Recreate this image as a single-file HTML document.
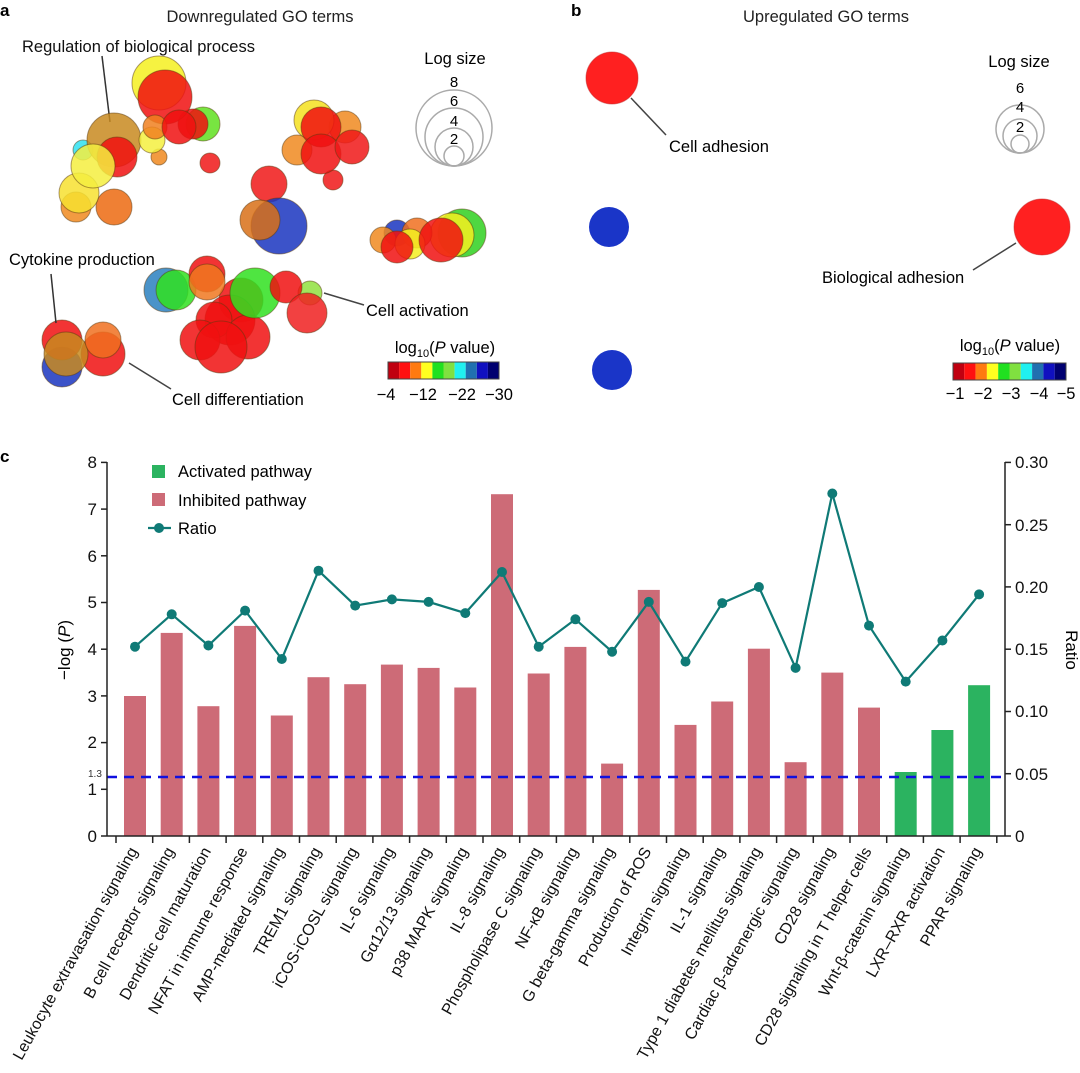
<!DOCTYPE html>
<html><head><meta charset="utf-8"><style>
body{margin:0;background:#fff}
svg{display:block;font-family:"Liberation Sans",Arial,sans-serif}
</style></head><body>
<svg width="1080" height="1073" viewBox="0 0 1080 1073" xmlns="http://www.w3.org/2000/svg">
<!-- Panel a -->
<text x="0" y="16" font-size="17" font-weight="bold">a</text>
<text x="260" y="22" font-size="16.5" text-anchor="middle" fill="#222">Downregulated GO terms</text>
<text x="22" y="52" font-size="16.5" fill="#111">Regulation of biological process</text>
<line x1="102" y1="56" x2="110" y2="122" stroke="#333" stroke-width="1.5"/>
<g stroke="#5a3a10" stroke-opacity="0.5" stroke-width="1" fill-opacity="0.85">
<circle cx="76" cy="207" r="15" fill="#f08a20"/>
<circle cx="114" cy="207" r="18" fill="#ec6a10"/>
<circle cx="79" cy="193" r="20" fill="#f7e030"/>
<circle cx="83" cy="150" r="10" fill="#30e0f0"/>
<circle cx="114" cy="140" r="27" fill="#c88a20"/>
<circle cx="117" cy="157" r="20" fill="#f01010"/>
<circle cx="93" cy="166" r="22" fill="#f5ef40"/>
<circle cx="159" cy="157" r="8" fill="#f08a20"/>
<circle cx="210" cy="163" r="10" fill="#f01818"/>
<circle cx="159" cy="83" r="27" fill="#f5f020"/>
<circle cx="203" cy="124" r="17" fill="#60e020"/>
<circle cx="193" cy="124" r="15" fill="#f01010"/>
<circle cx="152" cy="140" r="13" fill="#f5f040"/>
<circle cx="165" cy="97" r="27" fill="#f01010"/>
<circle cx="155" cy="127" r="12" fill="#f08020"/>
<circle cx="179" cy="127" r="17" fill="#f01010"/>
<circle cx="297" cy="150" r="15" fill="#f08a20"/>
<circle cx="333" cy="180" r="10" fill="#f01818"/>
<circle cx="345" cy="127" r="16" fill="#f08a20"/>
<circle cx="314" cy="120" r="20" fill="#f5e020"/>
<circle cx="321" cy="127" r="20" fill="#f01010"/>
<circle cx="321" cy="154" r="20" fill="#f01010"/>
<circle cx="352" cy="147" r="17" fill="#f01818"/>
<circle cx="269" cy="184" r="18" fill="#f01818"/>
<circle cx="279" cy="226" r="28" fill="#1a35c0"/>
<circle cx="260" cy="220" r="20" fill="#d87018"/>
<circle cx="462" cy="233" r="24" fill="#30d020"/>
<circle cx="452" cy="235" r="22" fill="#f5f020"/>
<circle cx="397" cy="233" r="13" fill="#1a35c0"/>
<circle cx="383" cy="240" r="13" fill="#f08a20"/>
<circle cx="417" cy="233" r="15" fill="#f07020"/>
<circle cx="410" cy="244" r="15" fill="#f5f020"/>
<circle cx="397" cy="247" r="16" fill="#f01010"/>
<circle cx="441" cy="240" r="22" fill="#f01010"/>
<circle cx="166" cy="290" r="22" fill="#2a80c0"/>
<circle cx="176" cy="290" r="20" fill="#30e020"/>
<circle cx="310" cy="293" r="12" fill="#90e040"/>
<circle cx="207" cy="274" r="18" fill="#f01010"/>
<circle cx="241" cy="300" r="22" fill="#f01010"/>
<circle cx="207" cy="282" r="18" fill="#f07820"/>
<circle cx="230" cy="320" r="25" fill="#f01010"/>
<circle cx="214" cy="320" r="18" fill="#f01010"/>
<circle cx="200" cy="340" r="20" fill="#f01010"/>
<circle cx="248" cy="337" r="22" fill="#f01010"/>
<circle cx="221" cy="347" r="26" fill="#f01010"/>
<circle cx="255" cy="293" r="25" fill="#30e020"/>
<circle cx="286" cy="287" r="16" fill="#f01010"/>
<circle cx="307" cy="313" r="20" fill="#f02020"/>
<circle cx="62" cy="367" r="20" fill="#1a35c0"/>
<circle cx="62" cy="340" r="20" fill="#f01010"/>
<circle cx="103" cy="354" r="22" fill="#f01010"/>
<circle cx="66" cy="354" r="22" fill="#c88a20"/>
<circle cx="103" cy="340" r="18" fill="#f07020"/>
</g>
<text x="9" y="265" font-size="16.5">Cytokine production</text>
<line x1="51" y1="274" x2="56" y2="323" stroke="#333" stroke-width="1.5"/>
<text x="366" y="316" font-size="16.5">Cell activation</text>
<line x1="324" y1="293" x2="364" y2="305" stroke="#444" stroke-width="1.5"/>
<text x="172" y="405" font-size="16.5">Cell differentiation</text>
<line x1="129" y1="363" x2="171" y2="389" stroke="#444" stroke-width="1.5"/>
<text x="455" y="64" font-size="16.5" text-anchor="middle">Log size</text>
<g fill="none" stroke="#aaa" stroke-width="1.5">
<circle cx="454" cy="128" r="38"/><circle cx="454" cy="137" r="29"/><circle cx="454" cy="147" r="19"/><circle cx="454" cy="156" r="10"/>
</g>
<g font-size="15" text-anchor="middle"><text x="454" y="87">8</text><text x="454" y="106">6</text><text x="454" y="126">4</text><text x="454" y="144">2</text></g>
<text x="445" y="353" font-size="16.5" text-anchor="middle">log<tspan font-size="11" dy="4">10</tspan><tspan dy="-4">(</tspan><tspan font-style="italic">P</tspan> value)</text>
<g>
<rect x="388" y="362" width="11.1" height="17" fill="#c00010"/><rect x="399.1" y="362" width="11.1" height="17" fill="#ff1010"/><rect x="410.2" y="362" width="11.1" height="17" fill="#ff7a10"/><rect x="421.3" y="362" width="11.1" height="17" fill="#ffff20"/><rect x="432.4" y="362" width="11.1" height="17" fill="#20e020"/><rect x="443.5" y="362" width="11.1" height="17" fill="#80e040"/><rect x="454.6" y="362" width="11.1" height="17" fill="#20f0f0"/><rect x="465.7" y="362" width="11.1" height="17" fill="#2070b0"/><rect x="476.8" y="362" width="11.1" height="17" fill="#1010c0"/><rect x="487.9" y="362" width="11.1" height="17" fill="#000070"/>
<rect x="388" y="362" width="111" height="17" fill="none" stroke="#444"/>
</g>
<g font-size="16.5" text-anchor="middle"><text x="386" y="400">−4</text><text x="423" y="400">−12</text><text x="462" y="400">−22</text><text x="499" y="400">−30</text></g>

<!-- Panel b -->
<text x="571" y="16" font-size="17" font-weight="bold">b</text>
<text x="826" y="22" font-size="16.5" text-anchor="middle" fill="#222">Upregulated GO terms</text>
<circle cx="612" cy="78" r="26" fill="#ff2020" stroke="#c02020" stroke-opacity="0.5"/>
<line x1="631" y1="98" x2="666" y2="135" stroke="#444" stroke-width="1.5"/>
<text x="669" y="152" font-size="16.5">Cell adhesion</text>
<circle cx="609" cy="227" r="20" fill="#1a35c8"/>
<circle cx="612" cy="370" r="20" fill="#1a35c8"/>
<circle cx="1042" cy="227" r="28" fill="#ff2020" stroke="#c02020" stroke-opacity="0.5"/>
<line x1="1016" y1="243" x2="973" y2="270" stroke="#444" stroke-width="1.5"/>
<text x="822" y="283" font-size="16.5">Biological adhesion</text>
<text x="1019" y="67" font-size="16.5" text-anchor="middle">Log size</text>
<g fill="none" stroke="#aaa" stroke-width="1.5"><circle cx="1020" cy="129" r="24"/><circle cx="1020" cy="136" r="17"/><circle cx="1020" cy="144" r="9"/></g>
<g font-size="15" text-anchor="middle"><text x="1020" y="93">6</text><text x="1020" y="112">4</text><text x="1020" y="132">2</text></g>
<text x="1010" y="351" font-size="16.5" text-anchor="middle">log<tspan font-size="11" dy="4">10</tspan><tspan dy="-4">(</tspan><tspan font-style="italic">P</tspan> value)</text>
<g>
<rect x="953" y="363" width="11.3" height="17" fill="#c00010"/><rect x="964.3" y="363" width="11.3" height="17" fill="#ff1010"/><rect x="975.6" y="363" width="11.3" height="17" fill="#ff7a10"/><rect x="986.9" y="363" width="11.3" height="17" fill="#ffff20"/><rect x="998.2" y="363" width="11.3" height="17" fill="#20e020"/><rect x="1009.5" y="363" width="11.3" height="17" fill="#80e040"/><rect x="1020.8" y="363" width="11.3" height="17" fill="#20f0f0"/><rect x="1032.1" y="363" width="11.3" height="17" fill="#2070b0"/><rect x="1043.4" y="363" width="11.3" height="17" fill="#1010c0"/><rect x="1054.7" y="363" width="11.3" height="17" fill="#000070"/>
<rect x="953" y="363" width="113" height="17" fill="none" stroke="#444"/>
</g>
<g font-size="16.5" text-anchor="middle"><text x="955" y="399">−1</text><text x="983" y="399">−2</text><text x="1011" y="399">−3</text><text x="1039" y="399">−4</text><text x="1066" y="399">−5</text></g>

<!-- Panel c -->
<text x="0" y="462" font-size="17" font-weight="bold">c</text>
<g>
<rect x="124" y="696" width="22" height="140" fill="#cd6b77"/>
<rect x="160.7" y="632.9" width="22" height="203.1" fill="#cd6b77"/>
<rect x="197.4" y="706.2" width="22" height="129.8" fill="#cd6b77"/>
<rect x="234.1" y="625.9" width="22" height="210.1" fill="#cd6b77"/>
<rect x="270.8" y="715.5" width="22" height="120.5" fill="#cd6b77"/>
<rect x="307.5" y="677.2" width="22" height="158.8" fill="#cd6b77"/>
<rect x="344.2" y="684.2" width="22" height="151.8" fill="#cd6b77"/>
<rect x="380.9" y="664.6" width="22" height="171.4" fill="#cd6b77"/>
<rect x="417.6" y="667.9" width="22" height="168.1" fill="#cd6b77"/>
<rect x="454.3" y="687.5" width="22" height="148.5" fill="#cd6b77"/>
<rect x="491" y="494.2" width="22" height="341.8" fill="#cd6b77"/>
<rect x="527.7" y="673.5" width="22" height="162.5" fill="#cd6b77"/>
<rect x="564.4" y="646.9" width="22" height="189.1" fill="#cd6b77"/>
<rect x="601.1" y="763.6" width="22" height="72.4" fill="#cd6b77"/>
<rect x="637.8" y="589.9" width="22" height="246.1" fill="#cd6b77"/>
<rect x="674.5" y="724.9" width="22" height="111.1" fill="#cd6b77"/>
<rect x="711.2" y="701.5" width="22" height="134.5" fill="#cd6b77"/>
<rect x="747.9" y="648.7" width="22" height="187.3" fill="#cd6b77"/>
<rect x="784.6" y="762.2" width="22" height="73.8" fill="#cd6b77"/>
<rect x="821.3" y="672.6" width="22" height="163.4" fill="#cd6b77"/>
<rect x="858" y="707.6" width="22" height="128.4" fill="#cd6b77"/>
<rect x="894.7" y="772" width="22" height="64" fill="#2bb360"/>
<rect x="931.4" y="730" width="22" height="106" fill="#2bb360"/>
<rect x="968.1" y="685.2" width="22" height="150.8" fill="#2bb360"/>
</g>
<line x1="107" y1="777" x2="1005" y2="777" stroke="#1010e0" stroke-width="2.5" stroke-dasharray="10,7"/>
<text x="88" y="777" font-size="10" fill="#333">1.3</text>
<polyline fill="none" stroke="#0f7a76" stroke-width="2.2" points="135,646.7 171.7,614.3 208.4,645.5 245.1,610.6 281.8,659 318.5,570.7 355.2,605.6 391.9,599.4 428.6,601.9 465.3,613.1 502,572 538.7,646.7 575.4,619.3 612.1,651.7 648.8,601.9 685.5,661.6 722.2,603.1 758.9,587 795.6,667.9 832.3,493.5 869,625.6 905.7,681.6 942.4,640.5 979.1,594.4"/>
<g fill="#0f7a76">
<circle cx="135" cy="646.7" r="5"/><circle cx="171.7" cy="614.3" r="5"/><circle cx="208.4" cy="645.5" r="5"/><circle cx="245.1" cy="610.6" r="5"/><circle cx="281.8" cy="659" r="5"/><circle cx="318.5" cy="570.7" r="5"/><circle cx="355.2" cy="605.6" r="5"/><circle cx="391.9" cy="599.4" r="5"/><circle cx="428.6" cy="601.9" r="5"/><circle cx="465.3" cy="613.1" r="5"/><circle cx="502" cy="572" r="5"/><circle cx="538.7" cy="646.7" r="5"/><circle cx="575.4" cy="619.3" r="5"/><circle cx="612.1" cy="651.7" r="5"/><circle cx="648.8" cy="601.9" r="5"/><circle cx="685.5" cy="661.6" r="5"/><circle cx="722.2" cy="603.1" r="5"/><circle cx="758.9" cy="587" r="5"/><circle cx="795.6" cy="667.9" r="5"/><circle cx="832.3" cy="493.5" r="5"/><circle cx="869" cy="625.6" r="5"/><circle cx="905.7" cy="681.6" r="5"/><circle cx="942.4" cy="640.5" r="5"/><circle cx="979.1" cy="594.4" r="5"/>
</g>
<g stroke="#222" stroke-width="1.5" fill="none">
<line x1="107" y1="462" x2="107" y2="836"/>
<line x1="107" y1="836" x2="1005" y2="836"/>
<line x1="1005" y1="462" x2="1005" y2="836"/>
</g>
<g stroke="#222" stroke-width="1.5">
<line x1="101" y1="836" x2="107" y2="836"/><line x1="101" y1="789.3" x2="107" y2="789.3"/><line x1="101" y1="742.6" x2="107" y2="742.6"/><line x1="101" y1="695.9" x2="107" y2="695.9"/><line x1="101" y1="649.2" x2="107" y2="649.2"/><line x1="101" y1="602.5" x2="107" y2="602.5"/><line x1="101" y1="555.8" x2="107" y2="555.8"/><line x1="101" y1="509.1" x2="107" y2="509.1"/><line x1="101" y1="462.4" x2="107" y2="462.4"/>
<line x1="1005" y1="836" x2="1011" y2="836"/><line x1="1005" y1="773.7" x2="1011" y2="773.7"/><line x1="1005" y1="711.5" x2="1011" y2="711.5"/><line x1="1005" y1="649.2" x2="1011" y2="649.2"/><line x1="1005" y1="586.9" x2="1011" y2="586.9"/><line x1="1005" y1="524.7" x2="1011" y2="524.7"/><line x1="1005" y1="462.4" x2="1011" y2="462.4"/>
</g>
<g font-size="17" text-anchor="end" fill="#111">
<text x="97" y="842">0</text><text x="97" y="795">1</text><text x="97" y="748">2</text><text x="97" y="702">3</text><text x="97" y="655">4</text><text x="97" y="608">5</text><text x="97" y="562">6</text><text x="97" y="515">7</text><text x="97" y="468">8</text>
</g>
<g font-size="17" fill="#111">
<text x="1015" y="842">0</text><text x="1015" y="780">0.05</text><text x="1015" y="717">0.10</text><text x="1015" y="655">0.15</text><text x="1015" y="593">0.20</text><text x="1015" y="531">0.25</text><text x="1015" y="468">0.30</text>
</g>
<text transform="translate(70,650) rotate(-90)" font-size="17" text-anchor="middle">−log (<tspan font-style="italic">P</tspan>)</text>
<text transform="translate(1066,650) rotate(90)" font-size="17" text-anchor="middle">Ratio</text>
<rect x="152" y="465" width="13" height="13" fill="#2bb360"/>
<text x="178" y="477" font-size="16.5">Activated pathway</text>
<rect x="152" y="493" width="13" height="13" fill="#cd6b77"/>
<text x="178" y="506" font-size="16.5">Inhibited pathway</text>
<line x1="148" y1="528" x2="171" y2="528" stroke="#0f7a76" stroke-width="2.2"/>
<circle cx="159" cy="528" r="5" fill="#0f7a76"/>
<text x="178" y="534" font-size="16.5">Ratio</text>
<g stroke="#222" stroke-width="1.5">
<line x1="116" y1="836" x2="116" y2="843"/><line x1="152.7" y1="836" x2="152.7" y2="843"/><line x1="189.4" y1="836" x2="189.4" y2="843"/><line x1="226.1" y1="836" x2="226.1" y2="843"/><line x1="262.8" y1="836" x2="262.8" y2="843"/><line x1="299.5" y1="836" x2="299.5" y2="843"/><line x1="336.2" y1="836" x2="336.2" y2="843"/><line x1="372.9" y1="836" x2="372.9" y2="843"/><line x1="409.6" y1="836" x2="409.6" y2="843"/><line x1="446.3" y1="836" x2="446.3" y2="843"/><line x1="483" y1="836" x2="483" y2="843"/><line x1="519.7" y1="836" x2="519.7" y2="843"/><line x1="556.4" y1="836" x2="556.4" y2="843"/><line x1="593.1" y1="836" x2="593.1" y2="843"/><line x1="629.8" y1="836" x2="629.8" y2="843"/><line x1="666.5" y1="836" x2="666.5" y2="843"/><line x1="703.2" y1="836" x2="703.2" y2="843"/><line x1="739.9" y1="836" x2="739.9" y2="843"/><line x1="776.6" y1="836" x2="776.6" y2="843"/><line x1="813.3" y1="836" x2="813.3" y2="843"/><line x1="850" y1="836" x2="850" y2="843"/><line x1="886.7" y1="836" x2="886.7" y2="843"/><line x1="923.4" y1="836" x2="923.4" y2="843"/><line x1="960.1" y1="836" x2="960.1" y2="843"/><line x1="996.8" y1="836" x2="996.8" y2="843"/>
</g>
<g font-size="16" text-anchor="end" fill="#111">
<text transform="translate(138,851) rotate(-61)">Leukocyte extravasation signaling</text>
<text transform="translate(174.7,851) rotate(-61)">B cell receptor signaling</text>
<text transform="translate(211.4,851) rotate(-61)">Dendritic cell maturation</text>
<text transform="translate(248.1,851) rotate(-61)">NFAT in immune response</text>
<text transform="translate(284.8,851) rotate(-61)">AMP-mediated signaling</text>
<text transform="translate(321.5,851) rotate(-61)">TREM1 signaling</text>
<text transform="translate(358.2,851) rotate(-61)">iCOS-iCOSL signaling</text>
<text transform="translate(394.9,851) rotate(-61)">IL-6 signaling</text>
<text transform="translate(431.6,851) rotate(-61)">Gα12/13 signaling</text>
<text transform="translate(468.3,851) rotate(-61)">p38 MAPK signaling</text>
<text transform="translate(505,851) rotate(-61)">IL-8 signaling</text>
<text transform="translate(541.7,851) rotate(-61)">Phospholipase C signaling</text>
<text transform="translate(578.4,851) rotate(-61)">NF-κB signaling</text>
<text transform="translate(615.1,851) rotate(-61)">G beta-gamma signaling</text>
<text transform="translate(651.8,851) rotate(-61)">Production of ROS</text>
<text transform="translate(688.5,851) rotate(-61)">Integrin signaling</text>
<text transform="translate(725.2,851) rotate(-61)">IL-1 signaling</text>
<text transform="translate(761.9,851) rotate(-61)">Type 1 diabetes mellitus signaling</text>
<text transform="translate(798.6,851) rotate(-61)">Cardiac β-adrenergic signaling</text>
<text transform="translate(835.3,851) rotate(-61)">CD28 signaling</text>
<text transform="translate(872,851) rotate(-61)">CD28 signaling in T helper cells</text>
<text transform="translate(908.7,851) rotate(-61)">Wnt-β-catenin signaling</text>
<text transform="translate(945.4,851) rotate(-61)">LXR–RXR activation</text>
<text transform="translate(982.1,851) rotate(-61)">PPAR signaling</text>
</g>
</svg>
</body></html>
